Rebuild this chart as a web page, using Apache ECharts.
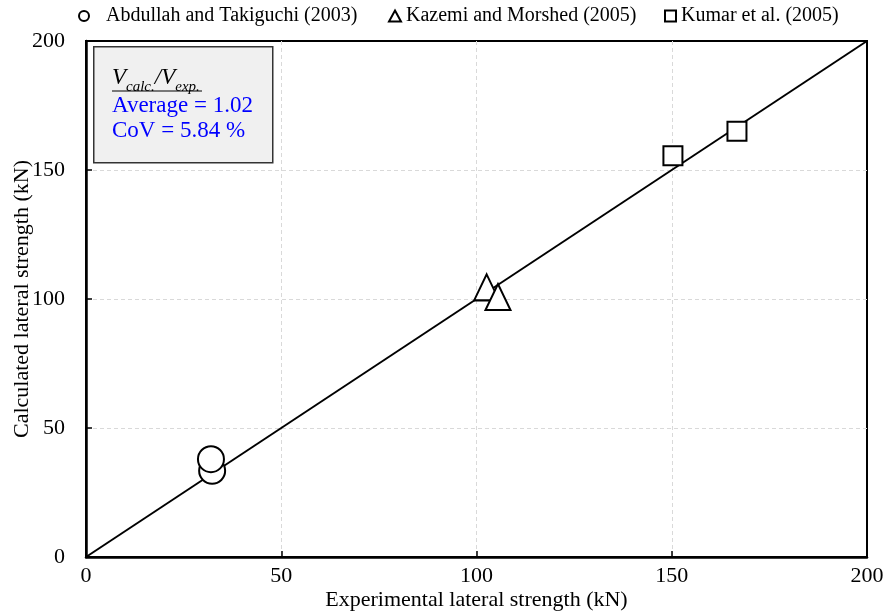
<!DOCTYPE html>
<html><head><meta charset="utf-8">
<script src="https://cdn.jsdelivr.net/npm/echarts@6/dist/echarts.min.js"></script>
<style>html,body{margin:0;padding:0;background:#fff}#c{width:891px;height:613px}</style>
</head><body><div id="c"></div>
<script>
var seriesNames = ['Abdullah and Takiguchi (2003)', 'Kazemi and Morshed (2005)', 'Kumar et al. (2005)'];
var abdullah = [[32.3, 33.4], [32.0, 37.9]];
var kazemi = [[102.6, 104.5], [105.5, 100.8]];
var kumar = [[150.3, 155.5], [166.7, 165.0]];
var equalityLine = [[0, 0], [200, 200]];
var axisTicks = [0, 50, 100, 150, 200];
var xName = 'Experimental lateral strength (kN)';
var yName = 'Calculated lateral strength (kN)';
var boxAverage = 'Average = 1.02';
var boxCoV = 'CoV = 5.84 %';

var F = '"Liberation Serif", "Times New Roman", serif';
var chart = echarts.init(document.getElementById('c'));
function mk(name, data, symbol, size) {
  return {name: name, type: 'scatter', data: data, symbol: symbol, symbolSize: size, z: 5,
    itemStyle: {color: '#fff', borderColor: '#000', borderWidth: 2, opacity: 1}};
}
function lg(name, left, icon, w, h, pad) {
  return {data: [{name: name, icon: icon}], left: left, top: 6, padding: 0, itemWidth: w, itemHeight: h, itemGap: 8,
    textStyle: {fontFamily: F, fontSize: 20, color: '#000', padding: [0, 0, 0, pad]}, selectedMode: false};
}
var axisCommon = {
  type: 'value', min: 0, max: 200, interval: 50,
  axisLine: {show: true, onZero: false, lineStyle: {color: '#000', width: 2.5}},
  axisTick: {show: true, inside: true, length: 6, lineStyle: {color: '#000', width: 1.5}},
  splitLine: {show: true, showMinLine: false, showMaxLine: false, lineStyle: {color: '#d9d9d9', type: [4, 3], width: 1}},
  axisLabel: {fontFamily: F, fontSize: 22, color: '#000'},
  nameLocation: 'middle',
  nameMoveOverlap: false,
  nameTextStyle: {fontFamily: F, fontSize: 22, color: '#000'}
};
var option = {
  animation: false,
  backgroundColor: '#fff',
  grid: {left: 86, right: 24, top: 41, bottom: 56, containLabel: false, outerBoundsMode: 'none',
         show: true, borderColor: '#000', borderWidth: 2, backgroundColor: 'transparent'},
  legend: [lg(seriesNames[0], 78, 'circle', 10, 10, 12), lg(seriesNames[1], 388, 'triangle', 12, 11, 0), lg(seriesNames[2], 664, 'rect', 11, 11, 0)],
  xAxis: Object.assign({}, axisCommon, {name: xName, nameGap: 32,
    axisLabel: Object.assign({}, axisCommon.axisLabel, {margin: 8})}),
  yAxis: Object.assign({}, axisCommon, {name: yName, nameGap: 53,
    axisLabel: Object.assign({}, axisCommon.axisLabel, {margin: 21})}),
  series: [
    {type: 'line', data: equalityLine, symbol: 'none', lineStyle: {color: '#000', width: 2}, z: 2, silent: true},
    mk(seriesNames[0], abdullah, 'circle', 26),
    mk(seriesNames[1], kazemi, 'triangle', [25, 26]),
    mk(seriesNames[2], kumar, 'rect', 19)
  ],
  graphic: [
    {type: 'rect', left: 93, top: 46, shape: {width: 179, height: 116}, z: 10,
     style: {fill: '#f0f0f0', stroke: '#333', lineWidth: 1.5}},
    {type: 'text', left: 112, top: 66, z: 11,
     style: {text: '{v|V}{s|calc.}{v|/V}{s|exp.}', fontFamily: F,
       rich: {v: {fontFamily: F, fontSize: 23, fontStyle: 'italic', fill: '#000', color: '#000', lineHeight: 26, verticalAlign: 'bottom'},
              s: {fontFamily: F, fontSize: 15, fontStyle: 'italic', fill: '#000', color: '#000', lineHeight: 26, verticalAlign: 'bottom', padding: [0, 0, -6, 0]}}}},
    {type: 'line', z: 11, shape: {x1: 112, y1: 91, x2: 202, y2: 91}, style: {stroke: '#000', lineWidth: 1}},
    {type: 'text', left: 112, top: 94, z: 11, style: {text: boxAverage, fontFamily: F, fontSize: 23, fill: '#0000ff'}},
    {type: 'text', left: 112, top: 119, z: 11, style: {text: boxCoV, fontFamily: F, fontSize: 23, fill: '#0000ff'}}
  ]
};
chart.setOption(option);
</script></body></html>
